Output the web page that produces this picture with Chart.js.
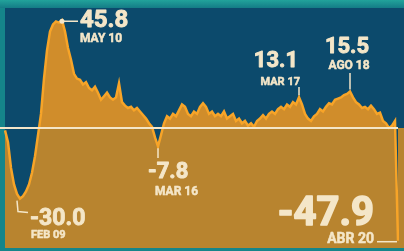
<!DOCTYPE html>
<html>
<head>
<meta charset="utf-8">
<script src="https://cdn.jsdelivr.net/npm/chart.js@4"></script>
<style>
  html, body { margin: 0; padding: 0; background: #15858a; }
  #wrap { width: 404px; height: 251px; }
</style>
</head>
<body>
<div id="wrap"><canvas id="chart" width="404" height="251"></canvas></div>
<script>
// weekly index values
const values = [
  -1, -6, -17, -24, -28, -30.0, -29, -27, -24, -19,
  -12, -3, 6, 21, 33, 41, 44, 45.3, 44.8, 45.8,
  41, 34, 29, 23, 21, 20.5, 18.5, 19.5, 17, 16,
  17.5, 15, 12, 13.5, 15, 13, 12, 13, 19, 11,
  9.5, 8.5, 9, 7.5, 8.5, 7, 5.5, 4, 2, 0.5,
  -4, -7.8, -3, 2, 5, 4, 6, 5, 7.5, 10,
  9, 6, 5, 7, 6, 9, 10.5, 9, 6, 7,
  5, 6, 5, 7, 4, 5, 6, 3, 4, 2,
  3, 1, 2, 0.5, 3, 4, 5.5, 4, 6, 7,
  6, 8, 9, 8, 10, 9, 11, 10, 13.1, 10,
  6, 4, 3, 5, 6, 8, 7, 9, 10.5, 10,
  12, 12.5, 13, 14, 14.5, 15.5, 13, 11, 10, 8.5,
  9, 8, 9.5, 8, 6, 6.5, 3, 2, 0, 1,
  3, -47.9
];
const labels = values.map((v, i) => i);

// highlighted points: index in the series, value text, date text
const calloutIndex = [5, 19, 51, 98, 115, 131];
const calloutValue = ['-30.0', '45.8', '-7.8', '13.1', '15.5', '-47.9'];
const calloutDate = ['FEB 09', 'MAY 10', 'MAR 16', 'MAR 17', 'AGO 18', 'ABR 20'];

const TEAL = '#15858a';
const BLUE = '#0c4a6c';
const GOLD = '#b8842f';
const CREAM = '#f4e6c8';

const backdrop = {
  id: 'backdrop',
  beforeDraw(chart) {
    const c = chart.ctx;
    const zero = chart.scales.y.getPixelForValue(0);
    const a = chart.chartArea;
    c.save();
    c.fillStyle = TEAL;
    c.fillRect(0, 0, chart.width, chart.height);
    const g = c.createLinearGradient(0, 0, 0, a.top);
    g.addColorStop(0, '#22a39b');
    g.addColorStop(1, '#147c86');
    c.fillStyle = g;
    c.fillRect(0, 0, chart.width, a.top);
    c.fillStyle = BLUE;
    c.fillRect(a.left, a.top, chart.width - a.left, zero - a.top);
    c.fillStyle = GOLD;
    c.fillRect(a.left, zero, chart.width - a.left, a.bottom - zero);
    c.restore();
  }
};

// label layout for each callout (same order as calloutIndex)
const calloutLayout = [
  { kind: 'elbow', tx: 30, ty: 225, dy: 238, align: 'left', dx: 31, size: 23, dsize: 11 },
  { kind: 'dot', tx: 80, ty: 27, dy: 42, align: 'left', dx: 80, size: 24, dsize: 12 },
  { kind: 'down', tx: 148, ty: 178, dy: 195, align: 'left', dx: 155, size: 22, dsize: 12, end: 158 },
  { kind: 'up', tx: 298, ty: 67, dy: 85, align: 'right', dx: 300, size: 22, dsize: 11, end: 87 },
  { kind: 'up', tx: 347, ty: 53, dy: 69, align: 'center', dx: 349, size: 22, dsize: 12, end: 73 },
  { kind: 'left', tx: 374, ty: 225, dy: 243, align: 'right', dx: 374, size: 40, dsize: 14, end: 377 }
];

const callouts = {
  id: 'callouts',
  afterDatasetsDraw(chart) {
    const c = chart.ctx;
    const xs = chart.scales.x, ys = chart.scales.y;
    const zero = ys.getPixelForValue(0);
    c.save();
    c.strokeStyle = CREAM;
    c.lineWidth = 2;
    c.beginPath();
    c.moveTo(0, zero);
    c.lineTo(xs.getPixelForValue(values.length - 1), zero);
    c.stroke();

    calloutIndex.forEach((idx, k) => {
      const L = calloutLayout[k];
      const px = xs.getPixelForValue(idx);
      const py = ys.getPixelForValue(values[idx]);
      c.strokeStyle = CREAM;
      c.fillStyle = CREAM;
      c.lineWidth = 1.5;
      c.beginPath();
      if (L.kind === 'elbow') {
        c.moveTo(px - 3, py + 2);
        c.lineTo(px - 2, py + 13);
        c.lineTo(px + 8, py + 14);
      } else if (L.kind === 'dot') {
        c.moveTo(px, py + 1);
        c.lineTo(px + 16, py + 1);
      } else if (L.kind === 'down') {
        c.moveTo(px, py + 2);
        c.lineTo(px, L.end);
      } else if (L.kind === 'up') {
        c.moveTo(px, py - 2);
        c.lineTo(px, L.end);
      } else {
        c.moveTo(px - 1, py + 1);
        c.lineTo(L.end, py + 1);
      }
      c.stroke();
      if (L.kind === 'dot') {
        c.beginPath();
        c.arc(px, py + 1, 2.5, 0, Math.PI * 2);
        c.fill();
      }
      c.textAlign = L.align;
      c.textBaseline = 'alphabetic';
      c.lineJoin = 'round';
      c.font = `bold ${L.size}px Roboto, "Liberation Sans", sans-serif`;
      c.lineWidth = L.size > 30 ? 1.6 : 0.9;
      c.strokeText(calloutValue[k], L.tx, L.ty);
      c.fillText(calloutValue[k], L.tx, L.ty);
      c.font = `bold ${L.dsize}px Roboto, "Liberation Sans", sans-serif`;
      c.lineWidth = 0.5;
      c.strokeText(calloutDate[k], L.dx, L.dy);
      c.fillText(calloutDate[k], L.dx, L.dy);
    });
    c.restore();
  }
};

new Chart(document.getElementById('chart'), {
  type: 'line',
  data: {
    labels: labels,
    datasets: [{
      data: values,
      borderColor: '#f7a428',
      borderWidth: 2.5,
      pointRadius: 0,
      tension: 0,
      fill: { target: { value: 0 }, above: '#d08d2b', below: BLUE }
    }]
  },
  options: {
    responsive: false,
    animation: false,
    layout: { padding: { left: 5, top: 8, right: 6, bottom: 3 } },
    scales: {
      x: { type: 'category', display: false, offset: false },
      y: { display: false, min: -51, max: 51 }
    },
    plugins: { legend: { display: false }, tooltip: { enabled: false } }
  },
  plugins: [backdrop, callouts]
});
</script>
</body>
</html>
